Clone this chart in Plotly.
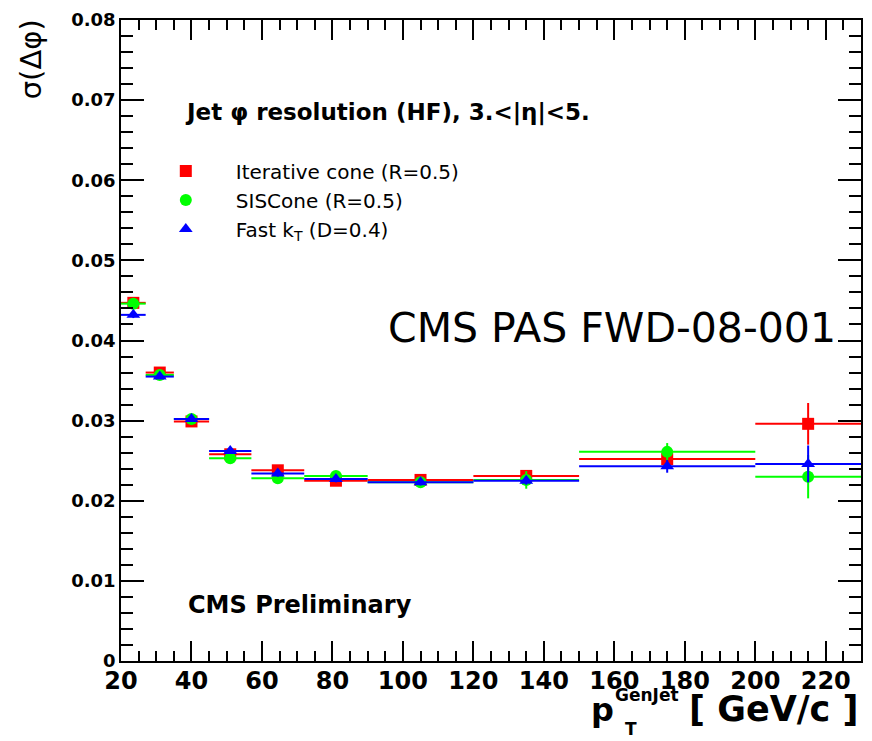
import plotly.graph_objects as go

# Bins of generated-jet pT [GeV/c]
bin_lo = [20, 27, 35, 45, 57, 72, 90, 120, 150, 200]
bin_hi = [27, 35, 45, 57, 72, 90, 120, 150, 200, 230]

# sigma(delta phi) per algorithm
icone = [0.0447, 0.0360, 0.0299, 0.0258, 0.0238, 0.0225, 0.0226, 0.0231, 0.0252, 0.0296]
siscone = [0.0446, 0.0357, 0.0302, 0.0253, 0.0228, 0.0231, 0.0223, 0.0226, 0.0261, 0.0230]
fastkt = [0.0432, 0.0355, 0.0302, 0.0262, 0.0234, 0.0227, 0.0223, 0.0225, 0.0243, 0.0246]

icone_err = [0.0004, 0.0003, 0.0003, 0.0003, 0.0004, 0.0004, 0.0004, 0.0005, 0.0007, 0.0026]
siscone_err = [0.0004, 0.0003, 0.0003, 0.0003, 0.0004, 0.0004, 0.0004, 0.0011, 0.0011, 0.0027]
fastkt_err = [0.0004, 0.0003, 0.0003, 0.0003, 0.0004, 0.0004, 0.0004, 0.0005, 0.0008, 0.0023]

series_names = ["Iterative cone (R=0.5)", "SISCone (R=0.5)", "Fast k<sub>T</sub> (D=0.4)"]

y_tickvals = [0, 0.01, 0.02, 0.03, 0.04, 0.05, 0.06, 0.07, 0.08]
y_ticktext = ["0", "0.01", "0.02", "0.03", "0.04", "0.05", "0.06", "0.07", "0.08"]
x_tickvals = [20, 40, 60, 80, 100, 120, 140, 160, 180, 200, 220]
x_ticktext = ["20", "40", "60", "80", "100", "120", "140", "160", "180", "200", "220"]

FONT = "DejaVu Sans"

x_mid = [(a + b) / 2 for a, b in zip(bin_lo, bin_hi)]
x_plus = [b - m for b, m in zip(bin_hi, x_mid)]
x_minus = [m - a for a, m in zip(bin_lo, x_mid)]

fig = go.Figure()

styles = [
    (icone, icone_err, "#ff0000", "square", 12),
    (siscone, siscone_err, "#00ff00", "circle", 12),
    (fastkt, fastkt_err, "#0000ff", "triangle-up", 12),
]
for name, (vals, errs, color, symbol, size) in zip(series_names, styles):
    fig.add_trace(go.Scatter(
        x=x_mid, y=vals, mode="markers", name=name,
        marker=dict(color=color, symbol=symbol, size=size, line=dict(width=0)),
        error_x=dict(type="data", symmetric=False, array=x_plus, arrayminus=x_minus,
                     color=color, thickness=2, width=0),
        error_y=dict(type="data", array=errs, color=color, thickness=2, width=0),
    ))

axis_common = dict(
    showline=True, linecolor="black", linewidth=1.5, mirror="ticks",
    ticks="inside", tickcolor="black", tickwidth=1.5,
    showgrid=False, zeroline=False,
)

fig.update_xaxes(
    range=[20, 230], tickmode="array", tickvals=x_tickvals, ticktext=x_ticktext,
    ticklen=20, ticklabelstandoff=-3,
    tickfont=dict(family=FONT, size=24, color="black", weight="bold"),
    minor=dict(ticks="inside", dtick=5, tick0=20, ticklen=10, tickwidth=1.5,
               tickcolor="black", showgrid=False),
    **axis_common,
)
fig.update_yaxes(
    range=[0, 0.08], tickmode="array", tickvals=y_tickvals, ticktext=y_ticktext,
    ticklen=23, tickfont=dict(family=FONT, size=18, color="black", weight="bold"),
    minor=dict(ticks="inside", dtick=0.002, tick0=0, ticklen=12, tickwidth=1.5,
               tickcolor="black", showgrid=False),
    **axis_common,
)


def px_x(px):
    return (px - 121) / 742


def px_y(py):
    return (661 - py) / 648


annotations = [
    dict(text="Jet φ resolution (HF), 3.&lt;|η|&lt;5.", x=px_x(183), y=px_y(107),
         xanchor="left", yanchor="middle",
         font=dict(family=FONT, size=23, color="black", weight="bold")),
    dict(text="CMS PAS FWD-08-001", x=px_x(840), y=px_y(324), xanchor="right", yanchor="middle",
         font=dict(family=FONT, size=41, color="black")),
    dict(text="CMS Preliminary", x=px_x(186), y=px_y(604), xanchor="left", yanchor="middle",
         font=dict(family=FONT, size=24, color="black", weight="bold")),
    # y-axis title
    dict(text="σ(Δφ)", x=px_x(31), y=px_y(10), xanchor="center", yanchor="top",
         textangle=-90, font=dict(family=FONT, size=29, color="black")),
    # x-axis title pieces
    dict(text="p", x=px_x(617), y=px_y(711), xanchor="right", yanchor="middle",
         font=dict(family=FONT, size=32, color="black", weight="bold")),
    dict(text="GenJet", x=px_x(648), y=px_y(695), xanchor="center", yanchor="middle",
         font=dict(family=FONT, size=17, color="black", weight="bold")),
    dict(text="T", x=px_x(632), y=px_y(730), xanchor="center", yanchor="middle",
         font=dict(family=FONT, size=17, color="black", weight="bold")),
    dict(text="[ GeV/c ]", x=px_x(862), y=px_y(710), xanchor="right",
         yanchor="middle", font=dict(family=FONT, size=35, color="black", weight="bold")),
]
for a in annotations:
    a.update(xref="paper", yref="paper", showarrow=False)

fig.update_layout(
    width=872, height=741,
    margin=dict(l=121, r=9, t=13, b=80),
    paper_bgcolor="white", plot_bgcolor="white",
    annotations=annotations,
    showlegend=True,
    legend=dict(x=0.02, y=0.795, xanchor="left", yanchor="top",
                font=dict(family=FONT, size=20, color="black"),
                bgcolor="rgba(0,0,0,0)", itemwidth=90, tracegroupgap=0),
)

fig.write_html("out.html")
